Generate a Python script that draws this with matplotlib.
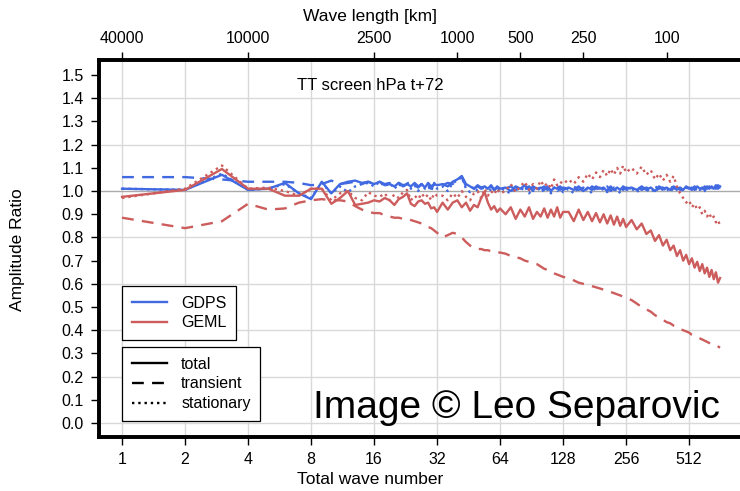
import matplotlib
matplotlib.use('Agg')
import matplotlib.pyplot as plt
from matplotlib.lines import Line2D

plt.rcParams['font.family'] = ['Liberation Sans', 'DejaVu Sans']

# total wave numbers: every n up to 32, then coarser steps
wn = (list(range(1, 33)) + list(range(34, 65, 2)) + list(range(68, 129, 4))
      + list(range(136, 257, 8)) + list(range(272, 721, 16)))

gdps_total = [
    1.01, 1.005, 1.07, 1.005, 1.01, 1.035, 0.99, 0.965, 1.04, 0.99, 1.03, 1.04, 1.045, 1.035, 1.04, 1.03,
    1.04, 1.025, 1.03, 1.02, 1.035, 1.025, 1.03, 1.02, 1.035, 1.02, 1.03, 1.015, 1.035, 1.02, 1.03, 1.025,
    1.03, 1.02, 1.04, 1.05, 1.065, 1.03, 1.02, 1.01, 1.025, 1.015, 1.02, 1.01, 1.025, 1.005, 1.02, 1.01,
    1.015, 1.0, 1.02, 1.01, 1.025, 1.005, 1.02, 1.01, 1.015, 1.005, 1.02, 1.0, 1.015, 1.01, 1.02, 1.005,
    1.015, 1.005, 1.02, 1.0, 1.015, 1.005, 1.02, 1.01, 1.015, 1.0, 1.02, 1.005, 1.015, 1.005, 1.02, 1.01,
    1.015, 1.005, 1.02, 1.005, 1.015, 1.0, 1.02, 1.01, 1.015, 1.005, 1.02, 1.01, 1.015, 1.005, 1.02, 1.01,
    1.015, 1.005, 1.02, 1.01, 1.015, 1.005, 1.02, 1.01, 1.02, 1.01, 1.025, 1.01, 1.02]
gdps_trans = [
    1.06, 1.06, 1.05, 1.04, 1.04, 1.04, 1.035, 1.025, 1.03, 1.045, 1.03, 1.035, 1.04, 1.03, 1.04, 1.03,
    1.04, 1.03, 1.035, 1.025, 1.035, 1.02, 1.03, 1.015, 1.025, 1.015, 1.03, 1.01, 1.025, 1.01, 1.03, 1.02,
    1.025, 1.035, 1.03, 1.05, 1.06, 1.02, 1.015, 1.01, 1.02, 1.01, 1.015, 1.005, 1.02, 1.005, 1.015, 1.01,
    1.01, 1.02, 1.005, 1.015, 1.01, 1.02, 1.0, 1.015, 1.01, 1.02, 1.005, 1.015, 1.01, 1.02, 1.005, 1.015,
    1.01, 1.02, 1.005, 1.015, 1.0, 1.02, 1.01, 1.015, 1.005, 1.02, 1.0, 1.015, 1.01, 1.02, 1.005, 1.015,
    1.01, 1.02, 1.005, 1.015, 1.005, 1.02, 1.01, 1.015, 1.0, 1.02, 1.01, 1.015, 1.005, 1.02, 1.01, 1.015,
    1.005, 1.02, 1.01, 1.015, 1.005, 1.02, 1.01, 1.02, 1.005, 1.02, 1.01, 1.025, 1.015]
gdps_stat = [
    1.01, 1.005, 1.075, 1.005, 1.01, 1.03, 0.99, 0.97, 1.035, 0.99, 1.02, 0.995, 1.02, 1.03, 1.035, 1.02,
    1.04, 1.02, 1.035, 1.01, 1.03, 1.015, 1.04, 1.01, 1.025, 1.0, 1.03, 1.01, 1.02, 1.0, 1.035, 1.01,
    1.02, 1.0, 1.035, 1.045, 1.06, 1.01, 0.995, 1.02, 1.0, 1.015, 0.99, 1.02, 1.0, 1.01, 0.995, 1.015,
    1.0, 0.99, 1.015, 1.0, 1.02, 0.99, 1.01, 1.0, 1.015, 0.995, 1.01, 0.99, 1.015, 1.0, 1.01, 0.995,
    1.01, 0.99, 1.015, 1.0, 1.01, 0.99, 1.02, 1.0, 1.01, 0.995, 1.015, 1.0, 1.01, 0.99, 1.015, 1.005,
    1.01, 0.995, 1.015, 1.0, 1.01, 0.995, 1.015, 1.005, 1.01, 0.995, 1.015, 1.005, 1.01, 1.0, 1.015, 1.005,
    1.01, 1.0, 1.015, 1.005, 1.01, 1.0, 1.02, 1.005, 1.015, 1.005, 1.02, 1.01, 1.015]

geml_total = [
    0.975, 1.005, 1.095, 1.01, 1.01, 0.98, 0.98, 1.01, 1.01, 0.945, 0.97, 1.0, 0.94, 0.945, 0.95, 0.96,
    0.955, 0.97, 0.96, 0.94, 0.965, 0.975, 0.99, 0.945, 0.935, 0.955, 0.96, 0.945, 0.95, 0.925, 0.93, 0.91,
    0.95, 0.92, 0.95, 0.96, 0.93, 0.95, 0.915, 0.94, 0.93, 0.97, 0.995, 0.95, 0.92, 0.935, 0.91, 0.925,
    0.90, 0.93, 0.88, 0.92, 0.89, 0.93, 0.88, 0.91, 0.89, 0.925, 0.885, 0.92, 0.89, 0.93, 0.885, 0.91,
    0.91, 0.87, 0.92, 0.875, 0.91, 0.87, 0.905, 0.865, 0.90, 0.86, 0.895, 0.855, 0.89, 0.85, 0.88, 0.845,
    0.875, 0.835, 0.86, 0.815, 0.83, 0.785, 0.81, 0.765, 0.79, 0.745, 0.765, 0.72, 0.745, 0.70, 0.725, 0.685,
    0.71, 0.67, 0.695, 0.655, 0.685, 0.645, 0.67, 0.63, 0.66, 0.62, 0.65, 0.605, 0.625]
geml_trans = [
    0.885, 0.84, 0.87, 0.945, 0.92, 0.925, 0.95, 0.96, 0.965, 0.96, 0.96, 0.955, 0.935, 0.92, 0.91, 0.905,
    0.905, 0.895, 0.89, 0.885, 0.885, 0.88, 0.88, 0.875, 0.87, 0.865, 0.86, 0.855, 0.845, 0.84, 0.83, 0.82,
    0.80, 0.81, 0.82, 0.815, 0.80, 0.78, 0.765, 0.755, 0.75, 0.75, 0.745, 0.745, 0.74, 0.74, 0.735, 0.735,
    0.73, 0.72, 0.715, 0.71, 0.70, 0.695, 0.69, 0.685, 0.675, 0.665, 0.66, 0.65, 0.645, 0.64, 0.635, 0.63,
    0.625, 0.615, 0.605, 0.60, 0.595, 0.59, 0.585, 0.58, 0.575, 0.57, 0.565, 0.56, 0.555, 0.55, 0.545, 0.54,
    0.53, 0.515, 0.50, 0.49, 0.48, 0.465, 0.455, 0.445, 0.435, 0.43, 0.42, 0.415, 0.405, 0.40, 0.395, 0.39,
    0.38, 0.375, 0.37, 0.365, 0.36, 0.355, 0.35, 0.345, 0.34, 0.34, 0.335, 0.33, 0.325]
geml_stat = [
    0.97, 1.01, 1.11, 1.01, 1.015, 1.0, 0.98, 1.01, 1.01, 0.96, 0.99, 1.0, 0.97, 0.96, 0.995, 0.98,
    0.975, 0.99, 0.96, 0.985, 0.97, 0.995, 1.005, 0.96, 0.98, 0.965, 0.99, 0.97, 0.985, 0.96, 0.99, 0.98,
    0.98, 0.96, 0.99, 0.97, 1.0, 0.975, 0.96, 0.99, 1.0, 0.97, 1.01, 0.98, 1.0, 0.985, 1.01, 0.99,
    1.0, 1.03, 0.995, 1.02, 1.04, 1.005, 1.03, 1.01, 1.045, 1.02, 1.035, 1.01, 1.05, 1.025, 1.04, 1.03,
    1.05, 1.03, 1.06, 1.04, 1.075, 1.05, 1.08, 1.06, 1.09, 1.065, 1.095, 1.07, 1.10, 1.075, 1.11, 1.08,
    1.10, 1.075, 1.105, 1.07, 1.09, 1.05, 1.075, 1.045, 1.07, 1.04, 1.065, 1.02, 0.99, 0.97, 0.95, 0.96,
    0.93, 0.945, 0.92, 0.93, 0.90, 0.915, 0.89, 0.905, 0.88, 0.89, 0.865, 0.875, 0.85]

bottom_ticks = [1, 2, 4, 8, 16, 32, 64, 128, 256, 512]
top_ticks = [1, 4, 16, 40, 80, 160, 400]
top_labels = ['40000', '10000', '2500', '1000', '500', '250', '100']

BLUE = '#4169e1'
RED = '#cd5c5c'
DASH = (0, (5, 3.5))


def legenda(ax, fig, handles, labels, top_px):
    leg = ax.legend(handles, labels, loc='upper left',
                    bbox_to_anchor=(122 / 740, 1 - top_px / 491), bbox_transform=fig.transFigure,
                    fancybox=False, edgecolor='black', framealpha=1, fontsize=11.5,
                    handlelength=2.2, handletextpad=0.9, borderaxespad=0,
                    labelspacing=0.3, borderpad=0.6)
    leg.get_frame().set_linewidth(0.9)
    return leg


def main():
    fig = plt.figure(figsize=(7.4, 4.91), dpi=100)
    ax = fig.add_axes([0.1338, 0.1100, 0.8716, 0.7678])

    ax.set_xscale('log', base=2)
    ax.set_xlim(0.776, 937)
    ax.set_ylim(-0.06, 1.5647)

    # grid and the unit reference line
    for x in bottom_ticks:
        ax.axvline(x, color='#d9d9d9', lw=1.0, zorder=0)
    for y in [0.0, 0.2, 0.4, 0.6, 0.8, 1.2, 1.4]:
        ax.axhline(y, color='#d9d9d9', lw=1.0, zorder=0)
    ax.axhline(1.0, color='#aaaaaa', lw=1.0, zorder=0)

    lw = 1.7
    ax.plot(wn, gdps_total, color=BLUE, lw=lw)
    ax.plot(wn, gdps_trans, color=BLUE, lw=lw, linestyle=DASH)
    ax.plot(wn, gdps_stat, color=BLUE, lw=lw, linestyle=':')
    ax.plot(wn, geml_total, color=RED, lw=lw)
    ax.plot(wn, geml_trans, color=RED, lw=lw, linestyle=DASH)
    ax.plot(wn, geml_stat, color=RED, lw=lw, linestyle=':')

    ax.set_xticks(bottom_ticks)
    ax.set_xticklabels([str(t) for t in bottom_ticks])
    ax.xaxis.set_minor_locator(matplotlib.ticker.NullLocator())
    ax.set_yticks([i / 10 for i in range(16)])
    ax.set_yticklabels([f'{i / 10:.1f}' for i in range(16)])
    ax.tick_params(direction='out', length=6, width=1.0, labelsize=11.5, pad=5)
    for s in ax.spines.values():
        s.set_linewidth(2.6)

    # wave length axis on top
    top = ax.twiny()
    top.set_xscale('log', base=2)
    top.set_xlim(ax.get_xlim())
    top.set_xticks(top_ticks)
    top.set_xticklabels(top_labels)
    top.xaxis.set_minor_locator(matplotlib.ticker.NullLocator())
    top.tick_params(direction='out', length=6, width=1.0, labelsize=11.5, pad=4)
    for s in top.spines.values():
        s.set_linewidth(2.6)

    fig.text(0.5, 1 - 17 / 491, 'Wave length [km]', ha='center', va='center', fontsize=12.5)
    fig.text(0.5, 1 - 480 / 491, 'Total wave number', ha='center', va='center', fontsize=12.5)
    fig.text(18 / 740, 1 - 250 / 491, 'Amplitude Ratio', ha='center', va='center',
             rotation=90, fontsize=12.5)
    ax.text(0.5, 1 - 85 / 491, 'TT screen hPa t+72', transform=fig.transFigure,
            ha='center', va='center', fontsize=12)

    # model legend and line type legend
    h1 = [Line2D([], [], color=BLUE, lw=1.7), Line2D([], [], color=RED, lw=1.7)]
    leg1 = legenda(ax, fig, h1, ['GDPS', 'GEML'], 286)
    ax.add_artist(leg1)

    h2 = [Line2D([], [], color='black', lw=1.7),
          Line2D([], [], color='black', lw=1.7, linestyle=DASH),
          Line2D([], [], color='black', lw=1.7, linestyle=':')]
    legenda(ax, fig, h2, ['total', 'transient', 'stationary'], 347)

    fig.text(720 / 740, 1 - 418 / 491, 'Image © Leo Separovic', ha='right', va='baseline',
             fontsize=28, color='black')

    fig.savefig('out.png', dpi=100)


main()
